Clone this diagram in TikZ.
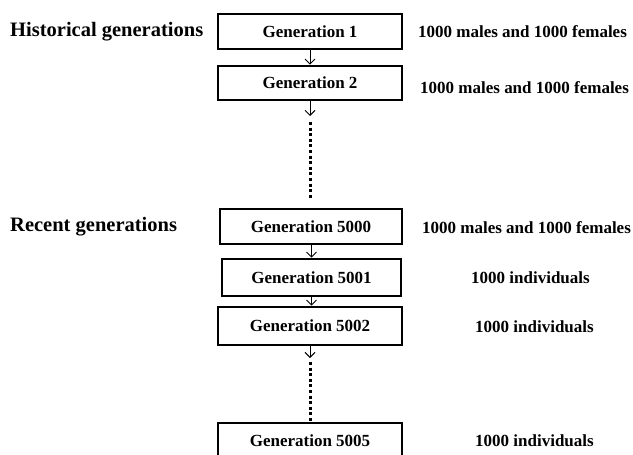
\documentclass[tikz,border=0pt]{standalone}
\usepackage{fontspec}
\setmainfont{Liberation Serif}
\usetikzlibrary{arrows.meta}
\tikzset{
  genbox/.style={draw, line width=2.6pt, minimum width=184pt, inner sep=0pt,
    font=\fontsize{17}{17}\selectfont\bfseries},
  sidelabel/.style={inner sep=0pt, font=\fontsize{20.5}{20.5}\selectfont\bfseries},
  infolabel/.style={inner sep=0pt, font=\fontsize{17}{17}\selectfont\bfseries},
  flow/.style={line width=0.9pt, -{Straight Barb[length=5pt,width=10pt]}},
  dots/.style={line width=3pt, dash pattern=on 3pt off 2.6pt}
}
\begin{document}
\begin{tikzpicture}[x=1pt,y=-1pt]
\useasboundingbox[fill=white] (0,0) rectangle (633,455);
% boxes
\node[genbox, minimum height=35pt] (g1) at (310,31.5) {Generation 1};
\node[genbox, minimum height=34pt] (g2) at (310,83) {Generation 2};
\node[genbox, minimum height=35pt, minimum width=182pt] (g5000) at (311,226.5) {Generation 5000};
\node[genbox, minimum height=37pt, minimum width=179pt] (g5001) at (311.5,277.5) {Generation 5001};
\node[genbox, minimum height=38pt] (g5002) at (310,326) {Generation 5002};
\node[genbox, minimum height=35pt] (g5005) at (310,440.5) {Generation 5005};
% side labels
\node[sidelabel, anchor=west] (hist) at (10,32) {Historical generations};
\node[sidelabel, anchor=west] (rec) at (10,227) {Recent generations};
% info labels
\node[infolabel, anchor=west] (i1) at (418,32) {1000 males and 1000 females};
\node[infolabel, anchor=west] (i2) at (420,88) {1000 males and 1000 females};
\node[infolabel, anchor=west] (i5000) at (422,228) {1000 males and 1000 females};
\node[infolabel] (i5001) at (530.5,278) {1000 individuals};
\node[infolabel] (i5002) at (534.5,327) {1000 individuals};
\node[infolabel] (i5005) at (534.5,441) {1000 individuals};
% connectors
\coordinate (a2) at (310,116);
\coordinate (d1s) at (310,122);
\coordinate (d1e) at (310,200);
\coordinate (a5002) at (310,358);
\coordinate (d2s) at (310,362);
\draw[flow] (g1.south) -- (g2.north);
\draw[flow] (g2.south) -- (a2);
\draw[dots] (d1s) -- (d1e);
\draw[flow] (g5000.south -| g5001.north) -- (g5001.north);
\draw[flow] (g5001.south) -- (g5002.north -| g5001.south);
\draw[flow] (g5002.south) -- (a5002);
\draw[dots] (d2s) -- (g5005.north);
\end{tikzpicture}
\end{document}
